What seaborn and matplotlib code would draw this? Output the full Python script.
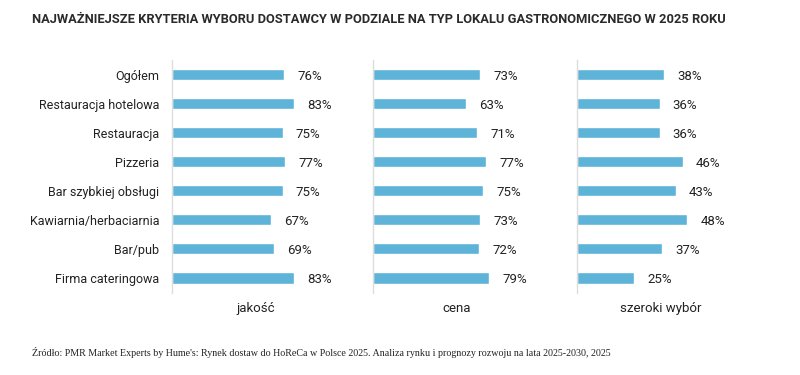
import pandas as pd
import matplotlib.pyplot as plt
import seaborn as sns

# dane z wykresu
lokale = ['Ogółem', 'Restauracja hotelowa', 'Restauracja', 'Pizzeria',
          'Bar szybkiej obsługi', 'Kawiarnia/herbaciarnia', 'Bar/pub', 'Firma cateringowa']
jakosc = [76, 83, 75, 77, 75, 67, 69, 83]
cena = [73, 63, 71, 77, 75, 73, 72, 79]
szeroki_wybor = [38, 36, 36, 46, 43, 48, 37, 25]
kryteria = ['jakość', 'cena', 'szeroki wybór']

sns.set_style('white')
plt.rcParams['font.family'] = ['Roboto', 'DejaVu Sans']

bar_color = '#5db3d8'
text_color = '#222222'

fig = plt.figure(figsize=(8, 3.75), dpi=100)
lefts = [0.215, 0.466, 0.721]
xmax = [114, 114, 73]
series = [jakosc, cena, szeroki_wybor]

for i, (vals, nazwa) in enumerate(zip(series, kryteria)):
    ax = fig.add_axes([lefts[i], 0.22, 0.21, 0.619])
    df = pd.DataFrame({'lokal': lokale, 'procent': vals})
    sns.barplot(data=df, x='procent', y='lokal', color=bar_color, width=0.38,
                orient='h', ax=ax, saturation=1)
    ax.set_xlim(0, xmax[i])
    ax.set_ylim(7.5, -0.5)
    for j, v in enumerate(vals):
        ax.annotate(f'{v}%', xy=(v, j), xytext=(9.5, -1), textcoords='offset points',
                    va='center', ha='left', fontsize=9.5, color=text_color)
    ax.set_xticks([])
    ax.set_xlabel('')
    ax.set_ylabel('')
    ax.text(0.5, -0.07, nazwa, transform=ax.transAxes, ha='center', va='center',
            fontsize=9.5, color=text_color)
    for s in ['top', 'right', 'bottom']:
        ax.spines[s].set_visible(False)
    ax.spines['left'].set_color('#dddddd')
    ax.spines['left'].set_linewidth(1)
    if i == 0:
        ax.tick_params(axis='y', length=0, pad=9, labelsize=9, labelcolor=text_color)
    else:
        ax.set_yticks([])

fig.text(0.04, 0.947, 'NAJWAŻNIEJSZE KRYTERIA WYBORU DOSTAWCY W PODZIALE NA TYP LOKALU GASTRONOMICZNEGO W 2025 ROKU',
         ha='left', va='center', fontsize=9.3, fontweight='bold', color='#2a2a2a')
fig.text(0.04, 0.061, 'Źródło: PMR Market Experts by Hume\'s: Rynek dostaw do HoReCa w Polsce 2025. '
         'Analiza rynku i prognozy rozwoju na lata 2025-2030, 2025',
         ha='left', va='center', fontsize=7.2, color='#222222', family=['Liberation Serif', 'DejaVu Serif'])

fig.savefig('out.png', dpi=100, facecolor='white')
